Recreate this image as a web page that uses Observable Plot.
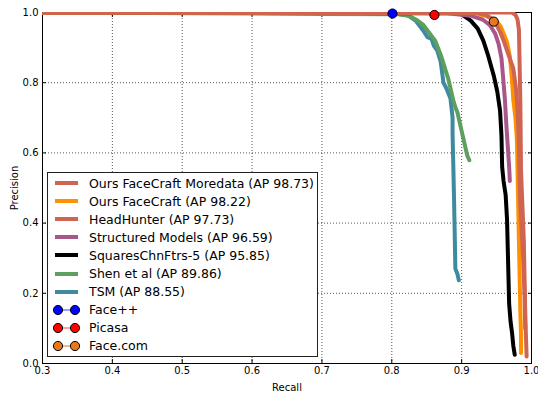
<!DOCTYPE html>
<html><head><meta charset="utf-8">
<script src="https://cdn.jsdelivr.net/npm/d3@7"></script>
<script src="https://cdn.jsdelivr.net/npm/@observablehq/plot@0.6"></script>
<style>
body{margin:0;background:#fff;}
#wrap{position:relative;width:538px;height:395px;font-family:"DejaVu Sans",sans-serif;}
#legend{position:absolute;left:47px;top:172px;width:271px;height:185px;border:1.3px solid #222;background:#fff;box-sizing:border-box;}
.row{position:absolute;left:0;height:18px;display:flex;align-items:center;font-size:12.5px;color:#000;white-space:nowrap;}
.row svg{display:block;}
</style></head><body><div id="wrap"></div>
<script>
// ---- data ----
const seriesNames = ["Ours FaceCraft Moredata","Ours FaceCraft","HeadHunter","Structured Models","SquaresChnFtrs-5","Shen et al","TSM"];
const seriesAP = [98.73, 98.22, 97.73, 96.59, 95.85, 89.86, 88.55];

const moredataR = [0.30,0.972,0.977,0.980,0.982,0.983,0.984,0.985,0.987,0.989,0.990,0.991,0.992,0.993];
const moredataP = [1.00,1.000,0.993,0.980,0.950,0.850,0.750,0.550,0.450,0.350,0.250,0.150,0.080,0.020];

const facecraftR = [0.30,0.915,0.935,0.950,0.956,0.960,0.965,0.969,0.972,0.974,0.977,0.979,0.980,0.981,0.982,0.983,0.984,0.985,0.985];
const facecraftP = [1.00,1.000,0.990,0.975,0.960,0.940,0.915,0.875,0.810,0.750,0.700,0.640,0.550,0.450,0.350,0.250,0.150,0.080,0.030];

const headhunterR = [0.30,0.920,0.935,0.945,0.950,0.955,0.960,0.967,0.974,0.978,0.980,0.982,0.983,0.984,0.986,0.988,0.990,0.991];
const headhunterP = [1.00,1.000,0.993,0.980,0.965,0.945,0.920,0.880,0.840,0.780,0.720,0.620,0.520,0.450,0.380,0.300,0.200,0.100];

const structuredR = [0.30,0.880,0.915,0.930,0.940,0.948,0.953,0.957,0.960,0.962,0.964,0.966,0.968,0.969];
const structuredP = [1.00,0.998,0.990,0.980,0.965,0.940,0.910,0.870,0.800,0.750,0.680,0.620,0.560,0.520];

const squaresR = [0.30,0.890,0.900,0.913,0.923,0.931,0.938,0.946,0.951,0.955,0.957,0.958,0.960,0.963,0.965,0.966,0.967,0.968,0.970,0.972,0.974,0.976];
const squaresP = [1.00,0.998,0.995,0.977,0.954,0.920,0.877,0.820,0.775,0.720,0.650,0.560,0.520,0.480,0.410,0.330,0.250,0.170,0.120,0.090,0.050,0.025];

const shenR = [0.30,0.700,0.810,0.825,0.837,0.845,0.851,0.862,0.870,0.874,0.877,0.881,0.884,0.888,0.891,0.894,0.898,0.903,0.908,0.911];
const shenP = [1.00,0.996,0.995,0.990,0.977,0.965,0.949,0.920,0.880,0.855,0.835,0.810,0.784,0.750,0.730,0.715,0.680,0.636,0.593,0.579];

const tsmR = [0.30,0.800,0.822,0.834,0.845,0.851,0.857,0.860,0.865,0.870,0.874,0.879,0.884,0.887,0.887,0.888,0.889,0.890,0.891,0.894,0.896];
const tsmP = [1.00,0.998,0.993,0.977,0.949,0.930,0.925,0.906,0.892,0.860,0.800,0.780,0.755,0.700,0.656,0.570,0.480,0.380,0.270,0.255,0.237];

const pointNames = ["Face++","Picasa","Face.com"];
const pointR = [0.801, 0.861, 0.946];
const pointP = [0.997, 0.993, 0.974];

const xTicks = [0.3,0.4,0.5,0.6,0.7,0.8,0.9,1.0];
const yTicks = [0.0,0.2,0.4,0.6,0.8,1.0];

// ---- styles ----
const seriesColors = ["#cf6550","#ff9100","#cf6550","#a9578a","#000000","#5e9f5e","#3e8a9e"];
const pointColors = ["#0000ff","#ff0000","#e8781e"];
const pointLineColors = ["#7f7fff","#ff7f7f","#f0a060"];
// drawing order (bottom to top), as indices into seriesNames
const drawOrder = [6, 5, 4, 3, 1, 2, 0];

// ---- build tables ----
const allR = [moredataR, facecraftR, headhunterR, structuredR, squaresR, shenR, tsmR];
const allP = [moredataP, facecraftP, headhunterP, structuredP, squaresP, shenP, tsmP];
const rows = [];
drawOrder.forEach(i => {
  allR[i].forEach((r, j) => rows.push({name: seriesNames[i], key: i, recall: r, precision: allP[i][j]}));
});
const points = pointNames.map((name, i) => ({name, recall: pointR[i], precision: pointP[i]}));

const gridStyle = {stroke: "black", strokeOpacity: 0.85, strokeDasharray: "1,2", strokeWidth: 0.8};

const chart = Plot.plot({
  width: 538, height: 395,
  marginLeft: 42, marginRight: 7, marginTop: 12, marginBottom: 32,
  style: {fontFamily: "DejaVu Sans", fontSize: "10px", color: "black", background: "white", overflow: "visible"},
  x: {domain: [0.3, 1.0]},
  y: {domain: [0, 1]},
  color: {domain: d3.range(seriesNames.length), range: seriesColors},
  marks: [
    Plot.gridX(xTicks.slice(1, -1), gridStyle),
    Plot.gridY(yTicks.slice(1, -1), gridStyle),
    Plot.axisX(xTicks, {anchor: "bottom", tickSize: -4, tickPadding: 7, tickFormat: d => d.toFixed(1), label: "Recall", labelAnchor: "center", labelOffset: 27, labelArrow: "none"}),
    Plot.axisX(xTicks, {anchor: "top", tickSize: -4, tickFormat: () => "", label: null}),
    Plot.axisY(yTicks, {anchor: "left", tickSize: -4, tickPadding: 8, tickFormat: d => d.toFixed(1), label: "Precision", labelAnchor: "center", labelOffset: 32, labelArrow: "none"}),
    Plot.axisY(yTicks, {anchor: "right", tickSize: -4, tickFormat: () => "", label: null}),
    Plot.frame({stroke: "black", strokeWidth: 1}),
    Plot.line(rows, {x: "recall", y: "precision", z: "key", stroke: "key", strokeWidth: 4, strokeLinejoin: "round", clip: true}),
    Plot.dot(points, {x: "recall", y: "precision", r: 4.6, fill: (d, i) => pointColors[i], stroke: "black", strokeWidth: 1})
  ]
});

const wrap = document.getElementById("wrap");
wrap.appendChild(chart);

// ---- legend ----
const legend = document.createElement("div");
legend.id = "legend";
const entries = seriesNames.map((n, i) => ({label: `${n} (AP ${seriesAP[i].toFixed(2)})`, kind: "line", color: seriesColors[i]}))
  .concat(pointNames.map((n, i) => ({label: n, kind: "point", color: pointColors[i], lineColor: pointLineColors[i]})));
entries.forEach((e, i) => {
  const row = document.createElement("div");
  row.className = "row";
  row.style.top = (1 + i * 18.1) + "px";
  let sw;
  if (e.kind === "line") {
    sw = `<svg width="40" height="18"><line x1="7" x2="30" y1="9" y2="9" stroke="${e.color}" stroke-width="4"/></svg>`;
  } else {
    sw = `<svg width="40" height="18"><line x1="10" x2="27" y1="9" y2="9" stroke="${e.lineColor}" stroke-width="1.5"/><circle cx="10" cy="9" r="4.6" fill="${e.color}" stroke="black"/><circle cx="27" cy="9" r="4.6" fill="${e.color}" stroke="black"/></svg>`;
  }
  row.innerHTML = sw + `<span style="margin-left:1px">${e.label}</span>`;
  legend.appendChild(row);
});
wrap.appendChild(legend);
</script></body></html>
